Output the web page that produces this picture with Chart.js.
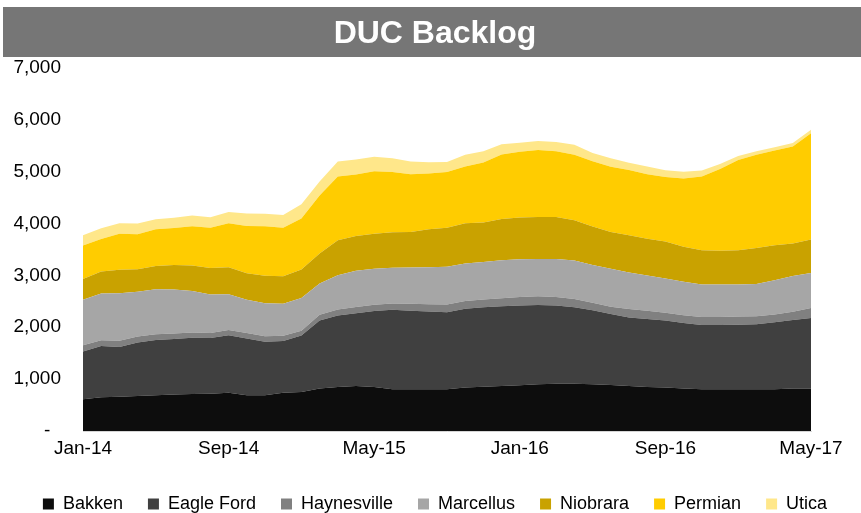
<!DOCTYPE html>
<html>
<head>
<meta charset="utf-8">
<title>DUC Backlog</title>
<script src="https://cdn.jsdelivr.net/npm/chart.js@4.4.1/dist/chart.umd.min.js"></script>
<style>
  html, body { margin: 0; padding: 0; background: #fff; }
  #wrap { width: 861px; height: 513px; position: relative; }
</style>
</head>
<body>
<div id="wrap"><canvas id="myChart"></canvas></div>
<script>
/* globals Chart:false */

const months = [
  'Jan-14', 'Feb-14', 'Mar-14', 'Apr-14', 'May-14', 'Jun-14', 'Jul-14', 'Aug-14', 'Sep-14', 'Oct-14', 'Nov-14', 'Dec-14',
  'Jan-15', 'Feb-15', 'Mar-15', 'Apr-15', 'May-15', 'Jun-15', 'Jul-15', 'Aug-15', 'Sep-15', 'Oct-15', 'Nov-15', 'Dec-15',
  'Jan-16', 'Feb-16', 'Mar-16', 'Apr-16', 'May-16', 'Jun-16', 'Jul-16', 'Aug-16', 'Sep-16', 'Oct-16', 'Nov-16', 'Dec-16',
  'Jan-17', 'Feb-17', 'Mar-17', 'Apr-17', 'May-17'
]
const tickLabels = ['Jan-14', 'Sep-14', 'May-15', 'Jan-16', 'Sep-16', 'May-17']

const bakken = [615, 655, 665, 675, 690, 705, 715, 720, 740, 690, 690, 740, 755, 820, 850, 870, 850, 805, 805, 805, 805,
  840, 855, 870, 885, 905, 915, 915, 905, 890, 870, 850, 840, 820, 805, 805, 805, 805, 805, 820, 820]
const eagleFord = [920, 985, 955, 1030, 1065, 1070, 1085, 1075, 1105, 1095, 1030, 995, 1085, 1310, 1375, 1400, 1465, 1530, 1515, 1500, 1485,
  1515, 1530, 1535, 1535, 1525, 1505, 1470, 1420, 1365, 1320, 1310, 1290, 1260, 1240, 1240, 1245, 1255, 1290, 1320, 1360]
const haynesville = [120, 110, 120, 115, 110, 105, 100, 95, 100, 105, 105, 100, 95, 110, 115, 120, 120, 120, 130, 140, 150,
  150, 150, 155, 160, 165, 160, 160, 145, 140, 160, 160, 150, 150, 150, 150, 155, 150, 150, 160, 190]
const marcellus = [875, 900, 915, 865, 865, 845, 800, 740, 690, 640, 635, 615, 630, 600, 660, 695, 690, 690, 700, 710, 725,
  720, 720, 730, 730, 720, 735, 740, 730, 730, 705, 675, 660, 645, 630, 630, 620, 620, 660, 685, 675]
const niobrara = [400, 425, 450, 430, 450, 475, 490, 510, 520, 510, 530, 530, 545, 580, 675, 670, 675, 685, 685, 730, 750,
  775, 760, 795, 800, 805, 805, 775, 740, 710, 715, 710, 710, 675, 655, 645, 655, 695, 675, 625, 645]
const permian = [645, 625, 695, 675, 705, 710, 755, 775, 845, 910, 955, 935, 985, 1115, 1225, 1185, 1200, 1155, 1110, 1075, 1070,
  1095, 1155, 1240, 1265, 1290, 1265, 1260, 1255, 1255, 1255, 1240, 1240, 1310, 1420, 1575, 1740, 1795, 1820, 1870, 2045]
const utica = [195, 205, 200, 205, 195, 195, 205, 200, 220, 240, 240, 245, 270, 270, 290, 290, 280, 265, 245, 215, 195,
  225, 215, 195, 175, 175, 180, 190, 160, 160, 140, 150, 130, 130, 115, 95, 75, 65, 65, 65, 65]

const basins = ['Bakken', 'Eagle Ford', 'Haynesville', 'Marcellus', 'Niobrara', 'Permian', 'Utica']
const basinData = [bakken, eagleFord, haynesville, marcellus, niobrara, permian, utica]
const colors = ['#0d0d0d', '#404040', '#808080', '#a6a6a6', '#c9a200', '#ffcc00', '#ffe78a']

;(() => {
  'use strict'

  Chart.defaults.font.family = "'Liberation Sans', Arial, sans-serif"
  Chart.defaults.color = '#000'

  // grey band behind the title
  const titleBand = {
    id: 'titleBand',
    beforeDraw (chart) {
      const t = chart.titleBlock
      const c = chart.ctx
      c.save()
      c.fillStyle = '#767676'
      c.fillRect(3, t.top, chart.width - 3, 50)
      c.restore()
    }
  }

  const ctx = document.getElementById('myChart')

  // eslint-disable-next-line no-unused-vars
  const myChart = new Chart(ctx, {
    type: 'line',
    data: {
      labels: months,
      datasets: basins.map((name, i) => ({
        label: name,
        data: basinData[i],
        backgroundColor: colors[i],
        borderColor: colors[i],
        borderWidth: 0,
        pointRadius: 0,
        pointHoverRadius: 0,
        lineTension: 0,
        fill: i === 0 ? 'origin' : '-1'
      }))
    },
    options: {
      responsive: true,
      maintainAspectRatio: false,
      animation: false,
      layout: {
        padding: { top: 7, left: 12, right: 3, bottom: -10 }
      },
      scales: {
        x: {
          grid: { display: false, drawTicks: false },
          border: { display: true, color: '#d9d9d9', width: 1 },
          ticks: {
            autoSkip: false,
            maxRotation: 0,
            padding: 6,
            font: { size: 19 },
            callback (value) {
              const lab = months[value]
              return tickLabels.includes(lab) ? lab : ''
            }
          },
          afterFit (axis) {
            axis.height += 4
            axis.paddingLeft = 0
            axis.paddingRight = 50
          }
        },
        y: {
          stacked: true,
          min: 0,
          max: 7000,
          grid: { display: false, drawTicks: false },
          border: { display: false },
          ticks: {
            stepSize: 1000,
            padding: 22,
            font: { size: 19 },
            callback (value) {
              return value === 0 ? '-  ' : value.toLocaleString('en-US')
            }
          },
          afterFit (axis) {
            axis.width = 71
          }
        }
      },
      plugins: {
        title: {
          display: true,
          text: 'DUC Backlog',
          color: '#fff',
          font: { size: 32, weight: 'bold' },
          padding: { top: 8, bottom: 14 }
        },
        legend: {
          position: 'bottom',
          labels: {
            boxWidth: 11,
            boxHeight: 11,
            padding: 25,
            font: { size: 18 }
          }
        },
        tooltip: { enabled: false }
      }
    },
    plugins: [titleBand]
  })
})()
</script>
</body>
</html>
